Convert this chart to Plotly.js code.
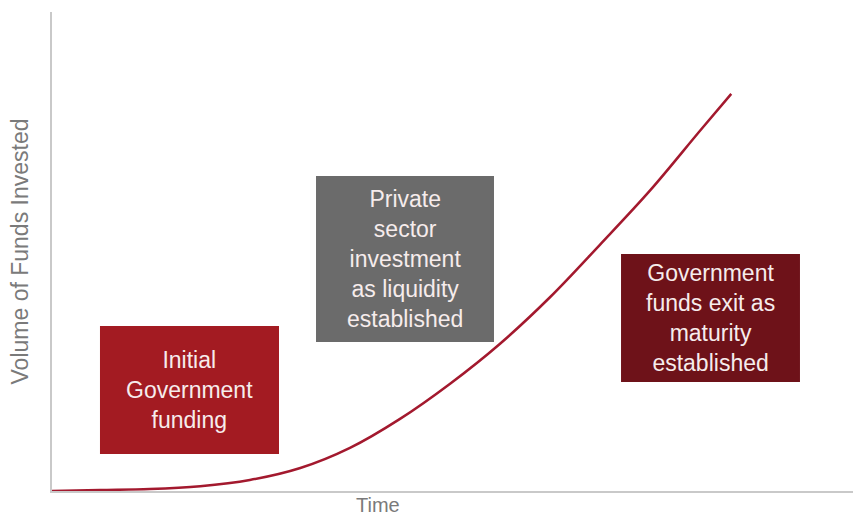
<!DOCTYPE html>
<html>
<head>
<meta charset="utf-8">
<script src="https://cdn.plot.ly/plotly-3.0.1.min.js"></script>
<style>html,body{margin:0;padding:0;background:#fff;}#chart{width:855px;height:519px;}</style>
</head>
<body>
<div id="chart"></div>
<script>
// Data (abstract units 0-100)
const time = [0, 6, 12.2, 18.5, 24.7, 31, 37.2, 43.4, 49.7, 55.9, 62.2, 68.4, 74.7, 80.9, 84.8];
const volume = [0, 0.2, 0.4, 1.0, 2.3, 4.8, 9.0, 15.0, 22.4, 30.7, 40.5, 51.4, 62.8, 75.2, 82.9];

const xTitle = "Time";
const yTitle = "Volume of Funds Invested";
const stageLabels = [
  "Initial<br>Government<br>funding",
  "Private<br>sector<br>investment<br>as liquidity<br>established",
  "Government<br>funds exit as<br>maturity<br>established"
];
const stageColors = ["#A31B22", "#6B6B6B", "#6E1219"];

const boxes = [
  {x0: 0.0599, x1: 0.2834, y0: 0.0772, y1: 0.3445},
  {x0: 0.3296, x1: 0.5518, y0: 0.3111, y1: 0.6576},
  {x0: 0.7104, x1: 0.9338, y0: 0.2276, y1: 0.4948}
];

const FONT = "Liberation Sans, Arial, sans-serif";

const shapes = boxes.map((b, i) => ({
  type: "rect", xref: "paper", yref: "paper",
  x0: b.x0, x1: b.x1, y0: b.y0, y1: b.y1,
  fillcolor: stageColors[i], line: {width: 0}, layer: "below"
}));

const annotations = boxes.map((b, i) => ({
  xref: "paper", yref: "paper",
  x: (b.x0 + b.x1) / 2, y: (b.y0 + b.y1) / 2,
  xanchor: "center", yanchor: "middle",
  text: stageLabels[i], showarrow: false, align: "center",
  font: {family: FONT, size: 23, color: "#F6ECEC"}
}));

annotations.push({
  xref: "paper", yref: "paper", x: 0.407, y: 0,
  xanchor: "center", yanchor: "top", yshift: -2, borderpad: 0,
  text: xTitle, showarrow: false,
  font: {family: FONT, size: 20, color: "#7A7A7A"}
});

const trace = {
  x: time, y: volume, type: "scatter", mode: "lines",
  line: {color: "#A3192E", width: 2.5, shape: "spline"},
  hoverinfo: "skip"
};

const layout = {
  width: 855, height: 519,
  margin: {l: 52, r: 2, t: 12, b: 28},
  paper_bgcolor: "#ffffff", plot_bgcolor: "#ffffff",
  showlegend: false,
  xaxis: {
    range: [0, 100], showgrid: false, zeroline: false, showticklabels: false, ticks: "",
    showline: true, linecolor: "#C9C9C9", linewidth: 2,
    fixedrange: true
  },
  yaxis: {
    range: [0, 100], showgrid: false, zeroline: false, showticklabels: false, ticks: "",
    showline: true, linecolor: "#C9C9C9", linewidth: 2,
    title: {text: yTitle, standoff: 15, font: {family: FONT, size: 23, color: "#7A7A7A"}},
    fixedrange: true
  },
  shapes: shapes,
  annotations: annotations
};

Plotly.newPlot("chart", [trace], layout, {displayModeBar: false, staticPlot: true});
</script>
</body>
</html>
